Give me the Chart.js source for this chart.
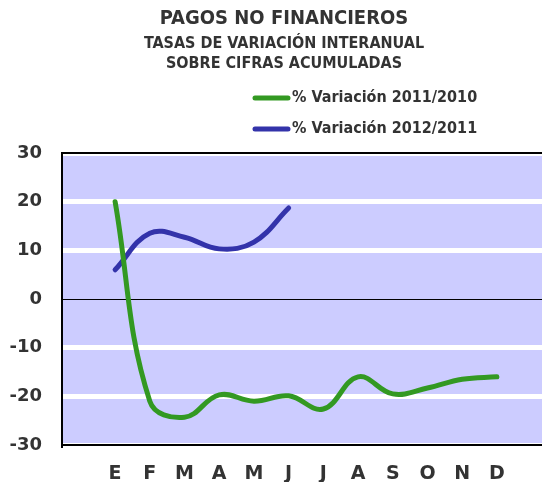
<!DOCTYPE html>
<html>
<head>
<meta charset="utf-8">
<script src="https://cdn.jsdelivr.net/npm/chart.js@4"></script>
<style>
  html, body { margin: 0; padding: 0; background: #fff; overflow: hidden; }
  #wrap { width: 542px; height: 482px; position: relative; }
</style>
</head>
<body>
<div id="wrap"><canvas id="chart" width="542" height="482"></canvas></div>
<script>
const MONTHS = ['E', 'F', 'M', 'A', 'M', 'J', 'J', 'A', 'S', 'O', 'N', 'D'];
const VAR_2011_2010 = [20, -21, -24.3, -19.7, -21, -19.9, -22.6, -16, -19.5, -18.3, -16.5, -16];
const VAR_2012_2011 = [6, 13.5, 12.7, 10.3, 11.7, 18.7];
const SERIES_NAMES = ['% Variación 2011/2010', '% Variación 2012/2011'];
const Y_TICKS = [-30, -20, -10, 0, 10, 20, 30];
const TITLE = 'PAGOS NO FINANCIEROS';
const SUBTITLE = ['TASAS DE VARIACIÓN INTERANUAL', 'SOBRE CIFRAS ACUMULADAS'];

const GREEN = '#339922';
const BLUE = '#3333aa';
const TEXT = '#333333';
const HEAVY = '"DejaVu Sans", sans-serif';
const COND = '"DejaVu Sans Condensed", "Liberation Sans Narrow", sans-serif';

const toPoints = (values) => values.map((v, i) => ({ x: i, y: v }));

// plot background, top frame line, titles and the stacked legend
const decor = {
  id: 'decor',
  beforeDraw(chart) {
    const { ctx, chartArea: a } = chart;
    ctx.save();
    ctx.fillStyle = '#ccccff';
    ctx.fillRect(a.left, a.top, a.right - a.left, a.bottom - a.top);
    ctx.restore();
  },
  afterDraw(chart) {
    const { ctx, chartArea: a } = chart;
    ctx.save();
    ctx.strokeStyle = '#000';
    ctx.lineWidth = 2;
    ctx.beginPath();
    ctx.moveTo(a.left - 1, a.top);
    ctx.lineTo(a.right, a.top);
    ctx.stroke();

    ctx.fillStyle = TEXT;
    ctx.textAlign = 'center';
    ctx.textBaseline = 'middle';
    ctx.font = 'bold 20px ' + COND;
    ctx.fillText(TITLE, 284, 19);
    ctx.font = 'bold 16px ' + COND;
    ctx.fillText(SUBTITLE[0], 284, 44);
    ctx.fillText(SUBTITLE[1], 284, 64);

    const colors = [GREEN, BLUE];
    ctx.textAlign = 'left';
    ctx.font = 'bold 16px ' + COND;
    SERIES_NAMES.forEach((name, i) => {
      const y = 98 + i * 31;
      ctx.strokeStyle = colors[i];
      ctx.lineWidth = 5;
      ctx.lineCap = 'round';
      ctx.beginPath();
      ctx.moveTo(255, y);
      ctx.lineTo(288, y);
      ctx.stroke();
      ctx.fillText(name, 292, y);
    });
    ctx.restore();
  }
};

new Chart(document.getElementById('chart'), {
  type: 'line',
  data: {
    datasets: [
      {
        label: SERIES_NAMES[0],
        data: toPoints(VAR_2011_2010),
        borderColor: GREEN,
        borderWidth: 5,
        borderCapStyle: 'round',
        tension: 0.4,
        pointRadius: 0,
      },
      {
        label: SERIES_NAMES[1],
        data: toPoints(VAR_2012_2011),
        borderColor: BLUE,
        borderWidth: 5,
        borderCapStyle: 'round',
        tension: 0.4,
        pointRadius: 0,
      },
    ],
  },
  options: {
    responsive: false,
    animation: false,
    layout: { padding: { top: 153, right: 0, left: 0, bottom: 0 } },
    plugins: { legend: { display: false }, tooltip: { enabled: false } },
    scales: {
      x: {
        type: 'linear',
        min: -1.53,
        max: 12.3,
        afterBuildTicks: (s) => { s.ticks = MONTHS.map((m, i) => ({ value: i })); },
        afterFit: (s) => { s.height = 37; },
        grid: { display: false, drawTicks: false },
        border: { color: '#000', width: 2 },
        ticks: {
          callback: (v) => MONTHS[v] ?? '',
          color: TEXT,
          font: { family: HEAVY, weight: 'bold', size: 19 },
          padding: 18,
          maxRotation: 0,
          autoSkip: false,
        },
      },
      y: {
        min: -30,
        max: 30,
        afterBuildTicks: (s) => { s.ticks = Y_TICKS.map((v) => ({ value: v })); },
        afterFit: (s) => { s.width = 62; },
        grid: {
          drawTicks: false,
          color: (c) => (c.tick && c.tick.value === 0 ? '#000' : '#ffffff'),
          lineWidth: (c) => (c.tick && c.tick.value === 0 ? 1 : 5),
        },
        border: { color: '#000', width: 2 },
        ticks: {
          color: TEXT,
          font: { family: HEAVY, weight: 'bold', size: 18 },
          padding: 20,
        },
      },
    },
  },
  plugins: [decor],
});
</script>
</body>
</html>
